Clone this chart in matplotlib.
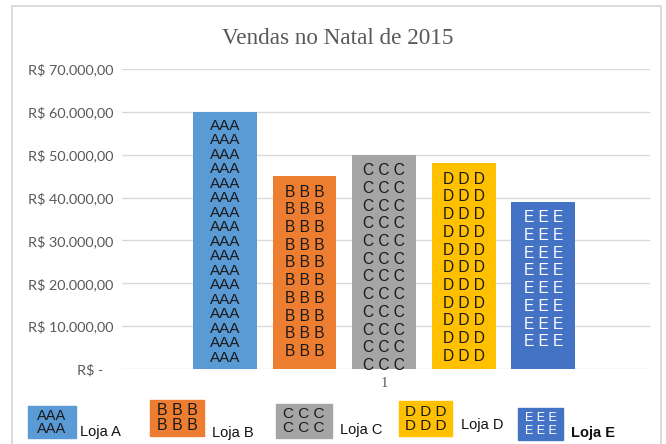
import matplotlib.pyplot as plt
from matplotlib.patches import Rectangle

# dados
lojas = ['Loja A', 'Loja B', 'Loja C', 'Loja D', 'Loja E']
vendas = [60000, 45000, 50000, 48000, 39000]
letras = ['AAA', 'B B B', 'C C C', 'D D D', 'E E E']
linhas = [17, 10, 12, 11, 8]
cores = ['#5b9bd5', '#ed7d31', '#a5a5a5', '#ffc000', '#4472c4']
cor_letra = ['#1a1a1a', '#1a1a1a', '#1a1a1a', '#1a1a1a', '#ffffff']
yticks = [0, 10000, 20000, 30000, 40000, 50000, 60000, 70000]
ylabels = ['R$ -   ', 'R$ 10.000,00', 'R$ 20.000,00', 'R$ 30.000,00',
           'R$ 40.000,00', 'R$ 50.000,00', 'R$ 60.000,00', 'R$ 70.000,00']

W, H = 666, 444
fig = plt.figure(figsize=(W / 100, H / 100), dpi=100)
ax = fig.add_axes([122 / W, 1 - 369 / H, 528 / W, 300 / H])

# borda do grafico
fig.patches.append(Rectangle((12 / W, -0.1), 649 / W, 1.1 - 6.5 / H,
                             transform=fig.transFigure, fill=False,
                             edgecolor='#d9d9d9', linewidth=1.3))

x = list(range(len(vendas)))
ax.bar(x, vendas, width=0.8, color=cores, zorder=2)

# letras dentro das barras (padrao do Excel)
px = 70000 / 300  # valor por pixel
for i, v in enumerate(vendas):
    if i == 0:
        passo, topo, fs = 14.5 * px, 14 * px, 11
    else:
        passo, topo, fs = 17.7 * px, 16 * px, 11.2
    for k in range(linhas[i]):
        ax.text(i, v - topo - k * passo, letras[i], ha='center', va='center',
                fontsize=fs, family='Liberation Sans', color=cor_letra[i], zorder=3)

ax.set_xlim(-1.29, 5.34)
ax.set_ylim(0, 70000)
ax.set_yticks(yticks)
ax.set_yticklabels(ylabels, family='Lato', fontsize=10.4, color='#595959')
ax.set_xticks([2])
ax.set_xticklabels(['1'], family='Liberation Serif', fontsize=10.5, color='#595959')
ax.tick_params(length=0)
ax.tick_params(axis='y', pad=6)
ax.tick_params(axis='x', pad=6)
ax.grid(axis='y', color='#d9d9d9', linewidth=1, zorder=0)
for s in ax.spines.values():
    s.set_visible(False)

fig.text(338 / W, 1 - 38 / H, 'Vendas no Natal de 2015', ha='center', va='center',
         family='Liberation Serif', fontsize=16.7, color='#595959')

# legenda (montada a mao)
caixas = [(28, 406, 48, 32), (150, 400, 54, 36), (276, 404, 56, 34),
          (399, 401, 53, 35), (518, 408, 45, 32)]
textos_leg = [(80, 432), (212, 433), (340, 430), (461, 425), (571, 433)]
fs_leg = [10.5, 11.5, 11, 11, 9]
letras_leg = ['AAA', 'B B B', 'C C C', 'D D D', 'E E E']
for i, (bx, by, bw, bh) in enumerate(caixas):
    fig.patches.append(Rectangle((bx / W, 1 - (by + bh) / H), bw / W, bh / H,
                                 transform=fig.transFigure, color=cores[i]))
    for k in range(2):
        yy = by + bh * (0.3 + 0.42 * k)
        fig.text((bx + bw / 2) / W, 1 - yy / H, letras_leg[i], ha='center',
                 va='center', fontsize=fs_leg[i], family='Liberation Sans',
                 color=cor_letra[i])
    tx, ty = textos_leg[i]
    fig.text(tx / W, 1 - ty / H, lojas[i], ha='left', va='center', fontsize=10.5,
             family='Liberation Sans', color='#111111',
             fontweight='bold' if i == 4 else 'normal')

fig.savefig('out.png', dpi=100)
